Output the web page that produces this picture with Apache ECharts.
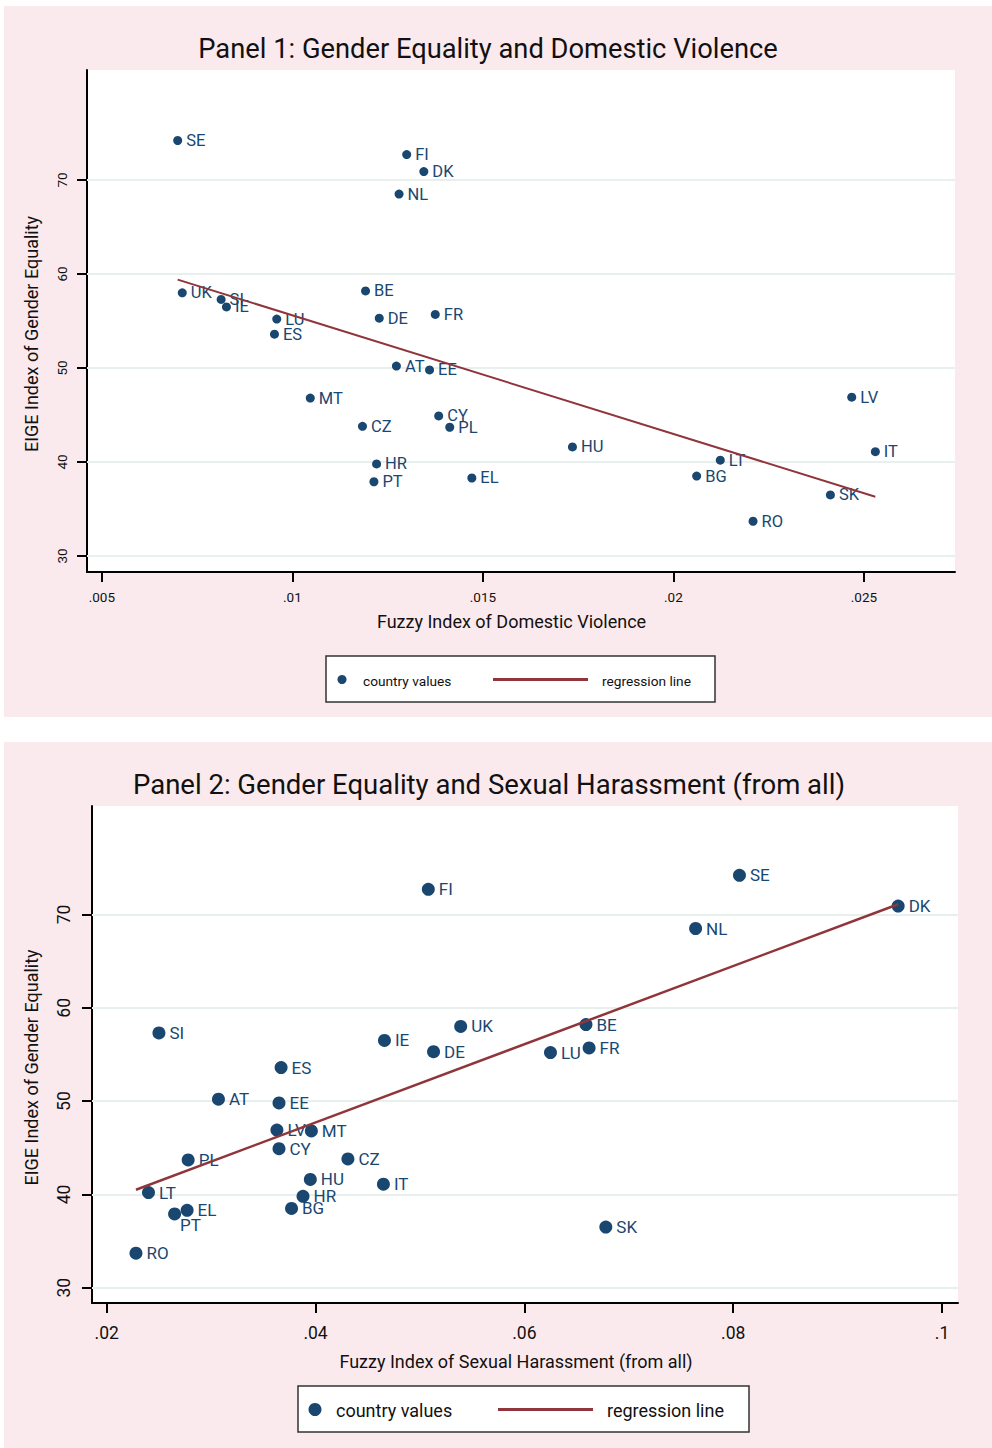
<!DOCTYPE html>
<html>
<head>
<meta charset="utf-8">
<script src="https://cdn.jsdelivr.net/npm/echarts@6/dist/echarts.min.js"></script>
<style>
html,body{margin:0;padding:0;background:#fff;}
#chart{width:992px;height:1448px;}
</style>
</head>
<body>
<div id="chart"></div>
<script>
// ---- data ----
const countries = ["SE","FI","DK","NL","UK","SI","IE","LU","ES","BE","DE","FR","AT","EE","MT","CZ","CY","PL","HR","PT","EL","HU","LV","LT","BG","IT","SK","RO"];
const eigeIndex = [74.2,72.7,70.9,68.5,58.0,57.3,56.5,55.2,53.6,58.2,55.3,55.7,50.2,49.8,46.8,43.8,44.9,43.7,39.8,37.9,38.3,41.6,46.9,40.2,38.5,41.1,36.5,33.7];
const domesticViolence = [0.00699,0.01300,0.01345,0.01280,0.00711,0.00813,0.00827,0.00959,0.00953,0.01192,0.01228,0.01375,0.01273,0.01360,0.01047,0.01184,0.01384,0.01413,0.01221,0.01214,0.01471,0.01735,0.02468,0.02123,0.02061,0.02530,0.02412,0.02209];
const sexualHarassment = [0.0806,0.0508,0.0958,0.0764,0.0539,0.0250,0.0466,0.0625,0.0367,0.0659,0.0513,0.0662,0.0307,0.0365,0.0396,0.0431,0.0365,0.0278,0.0388,0.0265,0.0277,0.0395,0.0363,0.0240,0.0377,0.0465,0.0678,0.0228];
const regLine1 = [[0.00699,59.4],[0.0253,36.3]];
const regLine2 = [[0.0228,40.5],[0.0958,71.1]];
const xTicks1 = [0.005,0.01,0.015,0.02,0.025];
const xTicks2 = [0.02,0.04,0.06,0.08,0.1];
const yTicks = [30,40,50,60,70];

// label placement tweaks (style only): panel 2 'PT' label sits below-right of its marker
const labelShift2 = {PT:[-5,11.5]};

const FONT = 'Roboto';
const NAVY = '#1a476f';
const MAROON = '#90353b';
const PINK = '#fbeaed';
const GRID = '#e8f0ed';

const chart = echarts.init(document.getElementById('chart'), null, {renderer:'svg'});

function pts(xs){ return countries.map((c,i)=>({name:c, value:[xs[i], eigeIndex[i]]})); }
function fmt(v){ return String(+v.toFixed(4)).replace(/^0\./,'.'); }

function xAxisCfg(idx, min, max, ticks, name, labelSize, nameGap, margin, shift){
  return {
    type:'value', gridIndex:idx, min:min, max:max,
    name:name, nameLocation:'middle', nameGap:nameGap,
    nameTextStyle:{fontFamily:FONT, fontSize:18, color:'#111', padding:[0,shift,0,0]},
    axisLine:{show:true, onZero:false, lineStyle:{color:'#000', width:2}},
    axisTick:{show:true, length:10, lineStyle:{color:'#000', width:2}, customValues:ticks},
    axisLabel:{show:true, customValues:ticks, formatter:fmt, fontFamily:FONT, fontSize:labelSize, color:'#111', margin:margin},
    splitLine:{show:false}
  };
}
function yAxisCfg(idx, min, max, labelSize, nameGap, margin){
  return {
    type:'value', gridIndex:idx, min:min, max:max,
    name:'EIGE Index of Gender Equality', nameLocation:'middle', nameGap:nameGap, nameRotate:90,
    nameTextStyle:{fontFamily:FONT, fontSize:18, color:'#111', padding:[0,26,0,0]},
    axisLine:{show:true, onZero:false, lineStyle:{color:'#000', width:2}},
    axisTick:{show:true, length:10, lineStyle:{color:'#000', width:2}, customValues:yTicks},
    axisLabel:{show:true, customValues:yTicks, rotate:90, fontFamily:FONT, fontSize:labelSize, color:'#111', margin:margin},
    splitLine:{show:false}
  };
}
function gridLines(idx){
  return {
    type:'scatter', xAxisIndex:idx, yAxisIndex:idx, data:[], z:1, silent:true,
    markLine:{silent:true, z:1, symbol:['none','none'], label:{show:false},
      lineStyle:{color:GRID, width:2, type:'solid'},
      data:yTicks.map(v=>({yAxis:v}))}
  };
}
function scatterSeries(idx, xs, size, fs, off, shifts){
  return {
    type:'scatter', xAxisIndex:idx, yAxisIndex:idx, data:pts(xs), symbolSize:size, z:3,
    itemStyle:{color:NAVY, opacity:1},
    label:{show:true, position:'right', distance:4, offset:[0,off], formatter:p=>p.name,
      fontFamily:FONT, fontSize:fs, color:NAVY},
    labelLayout:function(params){
      const s = shifts && shifts[countries[params.dataIndex]];
      return s ? {dx:s[0], dy:s[1], hideOverlap:false} : {hideOverlap:false};
    }
  };
}
function regSeries(idx, data, w){
  return {type:'line', xAxisIndex:idx, yAxisIndex:idx, data:data, symbol:'none', z:4,
    lineStyle:{color:MAROON, width:w}, silent:true};
}

function legendGraphics(box, cx, cy, r, t1x, lx1, lx2, t2x, fs){
  return [
    {type:'rect', shape:{x:box[0], y:box[1], width:box[2], height:box[3]},
      style:{fill:'#fff', stroke:'#333', lineWidth:1.5}, z:10},
    {type:'circle', shape:{cx:cx, cy:cy, r:r}, style:{fill:NAVY}, z:11},
    {type:'text', x:t1x, y:cy+1, style:{text:'country values', fontFamily:FONT, fontSize:fs, fill:'#111', verticalAlign:'middle'}, z:11},
    {type:'line', shape:{x1:lx1, y1:cy, x2:lx2, y2:cy}, style:{stroke:MAROON, lineWidth:3}, z:11},
    {type:'text', x:t2x, y:cy+1, style:{text:'regression line', fontFamily:FONT, fontSize:fs, fill:'#111', verticalAlign:'middle'}, z:11}
  ];
}

const option = {
  animation:false,
  backgroundColor:'#fff',
  title:[
    {text:'Panel 1: Gender Equality and Domestic Violence', left:483, top:30, textAlign:'center',
      textStyle:{fontFamily:FONT, fontSize:27.3, fontWeight:'normal', color:'#111'}},
    {text:'Panel 2: Gender Equality and Sexual Harassment (from all)', left:484, top:765, textAlign:'center',
      textStyle:{fontFamily:FONT, fontSize:27.5, fontWeight:'normal', color:'#111'}}
  ],
  graphic:[
    {type:'rect', shape:{x:4, y:6, width:988, height:711}, style:{fill:PINK}, z:-10, silent:true},
    {type:'rect', shape:{x:4, y:742, width:988, height:706}, style:{fill:PINK}, z:-10, silent:true},
    ...legendGraphics([326,656,389,46], 342, 679.5, 4.5, 363, 493, 588, 602, 13.7),
    ...legendGraphics([298,1386,451,46], 315, 1409.5, 6.5, 336, 498, 593, 607, 18)
  ],
  grid:[
    {left:87, top:70, width:868, height:502, show:true, backgroundColor:'#fff', borderWidth:0, containLabel:false},
    {left:92, top:806, width:866, height:497, show:true, backgroundColor:'#fff', borderWidth:0, containLabel:false}
  ],
  xAxis:[
    xAxisCfg(0, 0.00461, 0.02739, xTicks1, 'Fuzzy Index of Domestic Violence', 13.5, 40, 18, 19),
    xAxisCfg(1, 0.01859, 0.10153, xTicks2, 'Fuzzy Index of Sexual Harassment (from all)', 17.5, 49, 21, 18)
  ],
  yAxis:[
    yAxisCfg(0, 28.30, 81.70, 13.5, 47, 18),
    yAxisCfg(1, 28.36, 81.63, 17.5, 52, 19)
  ],
  series:[
    gridLines(0),
    gridLines(1),
    scatterSeries(0, domesticViolence, 9, 16.5, 3, null),
    scatterSeries(1, sexualHarassment, 13, 17, 3, labelShift2),
    regSeries(0, regLine1, 2),
    regSeries(1, regLine2, 2.5)
  ]
};
chart.setOption(option);
</script>
</body>
</html>
